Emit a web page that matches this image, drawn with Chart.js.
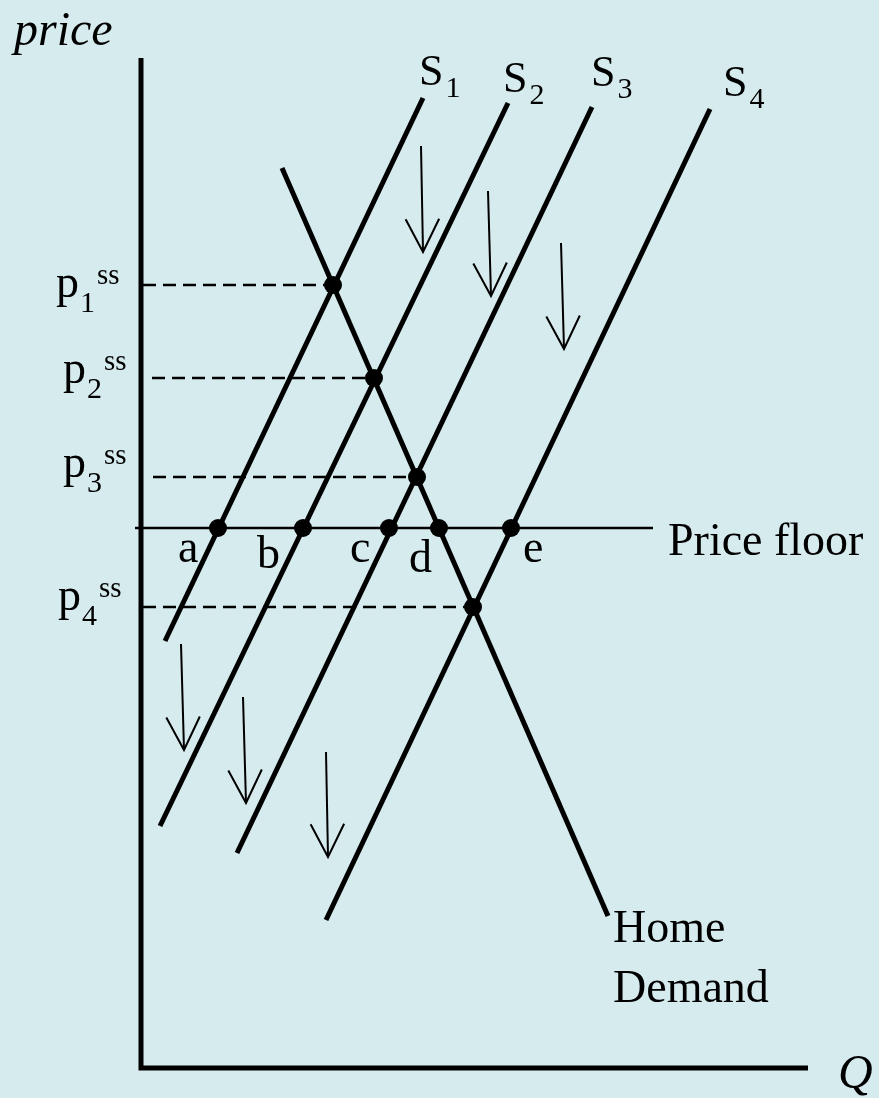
<!DOCTYPE html>
<html>
<head>
<meta charset="utf-8">
<title>Price floor with shifting supply</title>
<script src="https://cdn.jsdelivr.net/npm/chart.js@4.4.1/dist/chart.umd.min.js"></script>
<style>
  html, body { margin: 0; padding: 0; background: #d6ebee; }
  #wrap { width: 879px; height: 1098px; }
</style>
</head>
<body>
<div id="wrap"><canvas id="floorChart"></canvas></div>
<script>
// all points are [Q, price]
const supplySubs = ['1', '2', '3', '4'];
const supplyEnds = [
    [[24, 427], [282, 970]],
    [[19, 242], [367, 965]],
    [[96, 215], [451, 961]],
    [[185, 148], [569, 959]]
];
const demandEnds = [[141, 900], [467, 152]];

const floorPrice = 540;
const floorFrom = -6;
const floorTo = 512;

// steady-state prices p1ss..p4ss and where they meet demand
const ssSubs = ['1', '2', '3', '4'];
const ssPrices = [783, 690, 591, 461];
const ssQ = [192, 233, 276, 332];
const ssDashStart = [2, 11, 12, 2];

// points where each supply crosses the floor (and demand at d)
const floorLetters = ['a', 'b', 'c', 'd', 'e'];
const floorQ = [77, 162, 248, 298, 370];

// downward shift arrows: [from, to]
const shiftArrows = [
    [[280, 922], [282, 816]],
    [[347, 877], [350, 772]],
    [[420, 825], [423, 719]],
    [[40, 424], [43, 318]],
    [[102, 371], [105, 265]],
    [[185, 316], [187, 211]]
];

const axisTop = 1010;
const axisRight = 667;

const pt = p => ({ x: p[0], y: p[1] });
const ink = '#000';

// where the text goes (data coords, left edge / baseline)
const textSpots = {
    price: [-127, 1023],
    supply: [[278, 983], [362, 976], [450, 982], [582, 972]],
    ss: [[-85, 771], [-78, 685], [-78, 591], [-83, 458]],
    letters: [[37, 506], [116, 500], [209, 506], [268, 496], [382, 506]],
    floor: [527, 513],
    home: [472, 126],
    demand: [472, 66],
    q: [697, -20]
};

const datasets = [];

datasets.push({
    data: [pt([0, axisTop]), pt([0, 0]), pt([axisRight, 0])],
    borderColor: ink, borderWidth: 5, borderJoinStyle: 'miter', order: 2
});

supplyEnds.forEach(seg => {
    datasets.push({ data: seg.map(pt), borderColor: ink, borderWidth: 5, order: 2 });
});
datasets.push({ data: demandEnds.map(pt), borderColor: ink, borderWidth: 5, order: 2 });

datasets.push({
    data: [pt([floorFrom, floorPrice]), pt([floorTo, floorPrice])],
    borderColor: ink, borderWidth: 2.5, order: 2
});

ssPrices.forEach((p, i) => {
    datasets.push({
        data: [pt([ssDashStart[i], p]), pt([ssQ[i], p])],
        borderColor: ink, borderWidth: 2.5, borderDash: [13, 7], order: 2
    });
});

shiftArrows.forEach(a => {
    datasets.push({ data: a.map(pt), borderColor: ink, borderWidth: 2, order: 2 });
});

const dots = ssQ.map((q, i) => ({ x: q, y: ssPrices[i] }))
    .concat(floorQ.map(q => ({ x: q, y: floorPrice })));
datasets.push({
    data: dots, showLine: false, pointRadius: 9, pointBackgroundColor: ink,
    pointBorderWidth: 0, order: 0
});

datasets.forEach(d => {
    if (d.showLine === undefined) { d.showLine = true; d.pointRadius = 0; }
    d.pointHoverRadius = d.pointRadius;
});

const paper = {
    id: 'paper',
    beforeDraw(chart) {
        const c = chart.ctx;
        c.save();
        c.fillStyle = '#d6ebee';
        c.fillRect(0, 0, chart.width, chart.height);
        c.restore();
    }
};

const notes = {
    id: 'notes',
    afterDatasetsDraw(chart) {
        const c = chart.ctx;
        const xs = chart.scales.x, ys = chart.scales.y;
        const px = p => [xs.getPixelForValue(p[0]), ys.getPixelForValue(p[1])];
        const serif = 'Liberation Serif, Times New Roman, serif';
        c.save();
        c.fillStyle = ink;
        c.strokeStyle = ink;
        c.textBaseline = 'alphabetic';
        c.textAlign = 'left';

        // arrow heads
        c.lineWidth = 2;
        shiftArrows.forEach(a => {
            const [x0, y0] = px(a[0]);
            const [x1, y1] = px(a[1]);
            const ang = Math.atan2(y1 - y0, x1 - x0);
            const len = 37, spread = 0.47;
            c.beginPath();
            c.moveTo(x1 - len * Math.cos(ang - spread), y1 - len * Math.sin(ang - spread));
            c.lineTo(x1, y1);
            c.lineTo(x1 - len * Math.cos(ang + spread), y1 - len * Math.sin(ang + spread));
            c.stroke();
        });

        const write = (txt, spot, size, style) => {
            c.font = (style || '') + ' ' + size + 'px ' + serif;
            const [x, y] = px(spot);
            c.fillText(txt, x, y);
            return [x + c.measureText(txt).width, y];
        };
        const writePx = (txt, x, y, size) => {
            c.font = size + 'px ' + serif;
            c.fillText(txt, x, y);
            return x + c.measureText(txt).width;
        };

        write('price', textSpots.price, 48, 'italic');
        write('Q', textSpots.q, 48, 'italic');

        supplySubs.forEach((s, i) => {
            const [x, y] = write('S', textSpots.supply[i], 44);
            writePx(s, x + 2, y + 12, 30);
        });

        ssSubs.forEach((s, i) => {
            const [x, y] = write('p', textSpots.ss[i], 46);
            const x2 = writePx(s, x + 1, y + 15, 30);
            writePx('ss', x2 + 2, y - 13, 29);
        });

        floorLetters.forEach((l, i) => write(l, textSpots.letters[i], 46));
        write('Price floor', textSpots.floor, 46);
        write('Home', textSpots.home, 46);
        write('Demand', textSpots.demand, 46);
        c.restore();
    }
};

new Chart(document.getElementById('floorChart'), {
    type: 'scatter',
    data: { datasets },
    options: {
        responsive: true,
        maintainAspectRatio: false,
        animation: false,
        events: [],
        layout: { padding: 0, autoPadding: false },
        plugins: { legend: { display: false }, tooltip: { enabled: false } },
        scales: {
            x: { type: 'linear', display: false, min: -141, max: 738 },
            y: { type: 'linear', display: false, min: -30, max: 1068 }
        }
    },
    plugins: [paper, notes]
});
</script>
</body>
</html>
